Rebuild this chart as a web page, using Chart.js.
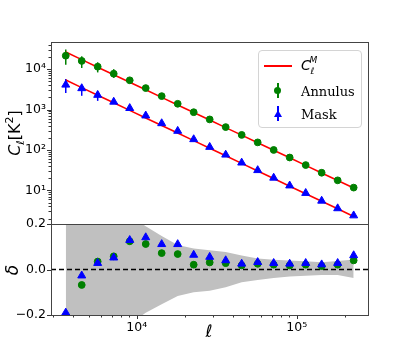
<!DOCTYPE html>
<html lang="en">
<head>
<meta charset="UTF-8" />
<title>C_ell model vs Annulus / Mask</title>
<script src="https://cdn.jsdelivr.net/npm/chart.js"></script>
<style>
  html, body { margin: 0; padding: 0; background: #fff; }
  #wrap { position: relative; width: 409px; height: 354px; overflow: hidden; font-family: "DejaVu Sans", sans-serif; color: #000; }
  #wrap canvas { position: absolute; left: 0; }
  .lbl { position: absolute; white-space: nowrap; line-height: 1; }
  .rot { transform: translate(-50%, -50%) rotate(-90deg); }
  .ctr { transform: translate(-50%, -50%); }
  #legend { position: absolute; left: 258px; top: 50px; width: 102px; height: 76px; border: 1px solid #d4d4d4; border-radius: 4px; background: rgba(255,255,255,0.8); }
  #legend .txt { position: absolute; left: 42px; font-family: "DejaVu Serif", serif; font-size: 13px; transform: translateY(-50%); }
  #legend .bar { position: absolute; width: 1.5px; height: 15px; left: 18px; }
</style>
</head>
<body>
<div id="wrap">
  <canvas id="top" width="409" height="240" style="top:0"></canvas>
  <canvas id="bottom" width="409" height="164" style="top:190px"></canvas>

  <div class="lbl rot" style="left:15px; top:133px; font-size:16px;"><i>C</i><sub style="font-size:11px"><i>ℓ</i></sub>[K<sup style="font-size:11px">2</sup>]</div>
  <div class="lbl rot" style="left:12px; top:270px; font-size:17px;"><i>δ</i></div>
  <div class="lbl ctr" style="left:209px; top:331px; font-size:17px;"><i>ℓ</i></div>

  <div id="legend">
    <div style="position:absolute; left:5px; top:14px; width:28px; height:1.5px; background:#ff0000;"></div>
    <div class="txt" style="top:15px; font-family:'DejaVu Sans',sans-serif; font-size:14px;"><i>C</i><sub style="font-size:9px; position:relative; top:1px;"><i>ℓ</i></sub><sup style="font-size:9px; position:relative; left:-5px; top:-1px;"><i>M</i></sup></div>

    <div class="bar" style="top:32px; left:18px; background:green;"></div>
    <div style="position:absolute; left:15px; top:36px; width:7px; height:7px; border-radius:50%; background:green;"></div>
    <div class="txt" style="top:40px;">Annulus</div>

    <div class="bar" style="top:55px; left:18px; background:#0000ff;"></div>
    <div style="position:absolute; left:14.5px; top:59px; width:0; height:0; border-left:4.5px solid transparent; border-right:4.5px solid transparent; border-bottom:7px solid #0000ff;"></div>
    <div class="txt" style="top:63px;">Mask</div>
  </div>
</div>

<script>
  // multipole bins
  const ELL = [3600, 4530, 5700, 7180, 9040, 11380, 14320, 18030, 22700, 28580,
               35980, 45290, 57020, 71780, 90370, 113800, 143200, 180300, 227000];

  // model spectra C_l^M
  const MODEL_ANNULUS = [26500, 17200, 11200, 7280, 4730, 3080, 2000, 1300, 846, 550,
                         357, 233, 151, 98.3, 63.9, 41.5, 27.0, 17.5, 11.4];
  const MODEL_MASK = [5370, 3490, 2265, 1471, 955, 620, 403, 262, 170, 110,
                      71.6, 46.5, 30.2, 19.6, 12.7, 8.27, 5.37, 3.49, 2.26];

  // measured spectra
  const ANNULUS = [21500, 16000, 11500, 7700, 5300, 3400, 2150, 1390, 860, 570,
                   368, 236, 154, 100, 65, 42.3, 27.3, 17.7, 11.7];
  const MASK = [4100, 3350, 2290, 1550, 1080, 707, 455, 295, 183, 118,
                76, 48.3, 31.4, 20.4, 13.1, 8.55, 5.5, 3.57, 2.38];

  // error bars (only those longer than the marker)
  const ANNULUS_LO = [12900, 10700, 8300, 6100, null, null, null, null, null, null, null, null, null, null, null, null, null, null, null];
  const ANNULUS_HI = [30500, 20800, 14800, 10000, null, null, null, null, null, null, null, null, null, null, null, null, null, null, null];
  const MASK_LO = [2560, 2190, 1640, null, null, null, null, null, null, null, null, null, null, null, null, null, null, null, null];
  const MASK_HI = [5700, 4110, 2800, null, null, null, null, null, null, null, null, null, null, null, null, null, null, null, null];

  // relative residuals delta
  const DELTA_ANNULUS = [-0.25, -0.068, 0.035, 0.058, 0.124, 0.112, 0.072, 0.068, 0.021, 0.031,
                         0.028, 0.018, 0.025, 0.021, 0.018, 0.021, 0.015, 0.021, 0.04];
  const DELTA_MASK = [-0.19, -0.027, 0.028, 0.052, 0.129, 0.141, 0.111, 0.111, 0.064, 0.055,
                      0.04, 0.025, 0.032, 0.028, 0.025, 0.028, 0.022, 0.028, 0.062];

  // grey uncertainty band
  const BAND_HI = [0.6, 0.5, 0.4, 0.3, 0.24, 0.19, 0.147, 0.108, 0.092, 0.085,
                   0.077, 0.062, 0.048, 0.043, 0.04, 0.036, 0.032, 0.037, 0.044];
  const BAND_LO = [-0.6, -0.5, -0.4, -0.3, -0.24, -0.19, -0.153, -0.117, -0.1, -0.093,
                   -0.078, -0.056, -0.046, -0.037, -0.031, -0.027, -0.024, -0.024, -0.037];

  // axes
  const X_MIN = 2911, X_MAX = 279000;
  const X_MAJOR = [1e4, 1e5];
  const X_LABELS = ['10⁴', '10⁵'];
  const Y_MIN = 1.47, Y_MAX = 47000;
  const Y_MAJOR = [10, 100, 1000, 10000];
  const Y_LABELS = ['10¹', '10²', '10³', '10⁴'];
  const D_TICKS = [-0.2, 0, 0.2];
  const D_LABELS = ['−0.2', '0.0', '0.2'];

  const tickFont = { family: 'DejaVu Sans', size: 12.5 };

  function logTicks(min, max) {
    const out = [];
    for (let p = -1; p <= 6; p++) {
      for (let m = 1; m <= 9; m++) {
        const v = m * Math.pow(10, p);
        if (v >= min && v <= max) out.push({ value: v });
      }
    }
    return out;
  }
  function labelFor(v, majors, labels) {
    const i = majors.findIndex(m => Math.abs(v - m) / Math.abs(m || 1) < 1e-6 || (m === 0 && Math.abs(v) < 1e-9));
    return i >= 0 ? labels[i] : '';
  }
  const pts = arr => ELL.map((x, i) => ({ x, y: arr[i] }));

  // frame and outward tick marks
  const frameTicks = {
    id: 'frameTicks',
    afterDraw(chart) {
      const { ctx, chartArea: a } = chart;
      ctx.save();
      ctx.strokeStyle = '#333';
      ctx.lineWidth = 1;
      Object.values(chart.scales).forEach(s => {
        if (!s.options.display) return;
        s.ticks.forEach(t => {
          const len = t.label ? 4 : 2.5;
          const p = Math.round(s.getPixelForValue(t.value)) + 0.5;
          ctx.beginPath();
          if (s.isHorizontal()) { ctx.moveTo(p, a.bottom); ctx.lineTo(p, a.bottom + len); }
          else { ctx.moveTo(a.left, p); ctx.lineTo(a.left - len, p); }
          ctx.stroke();
        });
      });
      ctx.strokeStyle = '#444';
      ctx.strokeRect(Math.round(a.left) + 0.5, Math.round(a.top) + 0.5,
                     Math.round(a.right - a.left), Math.round(a.bottom - a.top));
      ctx.restore();
    }
  };

  const errorBars = {
    id: 'errorBars',
    beforeDatasetsDraw(chart) {
      const { ctx, scales: { x, y } } = chart;
      const sets = [
        { lo: ANNULUS_LO, hi: ANNULUS_HI, color: 'green' },
        { lo: MASK_LO, hi: MASK_HI, color: '#0000ff' }
      ];
      ctx.save();
      ctx.lineWidth = 1.5;
      sets.forEach(s => {
        ctx.strokeStyle = s.color;
        ELL.forEach((l, i) => {
          if (s.lo[i] == null) return;
          const px = x.getPixelForValue(l);
          ctx.beginPath();
          ctx.moveTo(px, y.getPixelForValue(s.lo[i]));
          ctx.lineTo(px, y.getPixelForValue(s.hi[i]));
          ctx.stroke();
        });
      });
      ctx.restore();
    }
  };

  const xScale = (show) => ({
    type: 'logarithmic', min: X_MIN, max: X_MAX, display: show,
    afterBuildTicks: s => { s.ticks = logTicks(X_MIN, X_MAX); },
    afterFit: s => { s.height = show ? 39 : 0; },
    grid: { display: false, drawTicks: false }, border: { display: false },
    ticks: { autoSkip: false, maxRotation: 0, padding: 5, color: '#000', font: tickFont,
             callback: v => labelFor(v, X_MAJOR, X_LABELS) }
  });

  const maskStyle = { showLine: false, pointStyle: 'triangle', pointRadius: 4.6,
    backgroundColor: '#0000ff', borderColor: '#0000ff', pointBorderWidth: 1 };
  const annulusStyle = { showLine: false, pointStyle: 'circle', pointRadius: 3.4,
    backgroundColor: 'green', borderColor: 'green', pointBorderWidth: 1 };

  new Chart(document.getElementById('top'), {
    type: 'line',
    data: {
      datasets: [
        { ...maskStyle, data: pts(MASK), order: 0 },
        { ...annulusStyle, data: pts(ANNULUS), order: 1 },
        { data: pts(MODEL_ANNULUS), borderColor: '#ff0000', borderWidth: 1.6, pointRadius: 0, tension: 0, order: 2 },
        { data: pts(MODEL_MASK), borderColor: '#ff0000', borderWidth: 1.6, pointRadius: 0, tension: 0, order: 3 }
      ]
    },
    options: {
      responsive: false, animation: false, devicePixelRatio: 1,
      layout: { padding: { top: 42, right: 41, bottom: 16, left: 0 } },
      plugins: { legend: { display: false }, tooltip: { enabled: false } },
      scales: {
        x: xScale(false),
        y: {
          type: 'logarithmic', min: Y_MIN, max: Y_MAX,
          afterBuildTicks: s => { s.ticks = logTicks(Y_MIN, Y_MAX); },
          afterFit: s => { s.width = 51; },
          grid: { display: false, drawTicks: false }, border: { display: false },
          ticks: { autoSkip: false, padding: 5, color: '#000', font: tickFont,
                   callback: v => labelFor(v, Y_MAJOR, Y_LABELS) }
        }
      }
    },
    plugins: [errorBars, frameTicks]
  });

  new Chart(document.getElementById('bottom'), {
    type: 'line',
    data: {
      datasets: [
        { ...maskStyle, data: pts(DELTA_MASK), order: 0 },
        { ...annulusStyle, data: pts(DELTA_ANNULUS), order: 1 },
        { data: [{ x: X_MIN, y: 0 }, { x: X_MAX, y: 0 }], borderColor: '#000', borderWidth: 1.5,
          borderDash: [5, 3], pointRadius: 0, order: 2 },
        { data: pts(BAND_HI), fill: '+1', backgroundColor: '#c0c0c0', borderColor: 'rgba(0,0,0,0)',
          borderWidth: 0, pointRadius: 0, tension: 0, order: 3 },
        { data: pts(BAND_LO), fill: false, borderColor: 'rgba(0,0,0,0)',
          borderWidth: 0, pointRadius: 0, tension: 0, order: 4 }
      ]
    },
    options: {
      responsive: false, animation: false, devicePixelRatio: 1,
      layout: { padding: { top: 34, right: 41, bottom: 0, left: 0 } },
      plugins: { legend: { display: false }, tooltip: { enabled: false } },
      scales: {
        x: xScale(true),
        y: {
          type: 'linear', min: -0.2, max: 0.2,
          afterBuildTicks: s => { s.ticks = D_TICKS.map(v => ({ value: v })); },
          afterFit: s => { s.width = 51; },
          grid: { display: false, drawTicks: false }, border: { display: false },
          ticks: { autoSkip: false, padding: 5, color: '#000', font: tickFont,
                   callback: v => labelFor(v, D_TICKS, D_LABELS) }
        }
      }
    },
    plugins: [frameTicks]
  });
</script>
</body>
</html>
